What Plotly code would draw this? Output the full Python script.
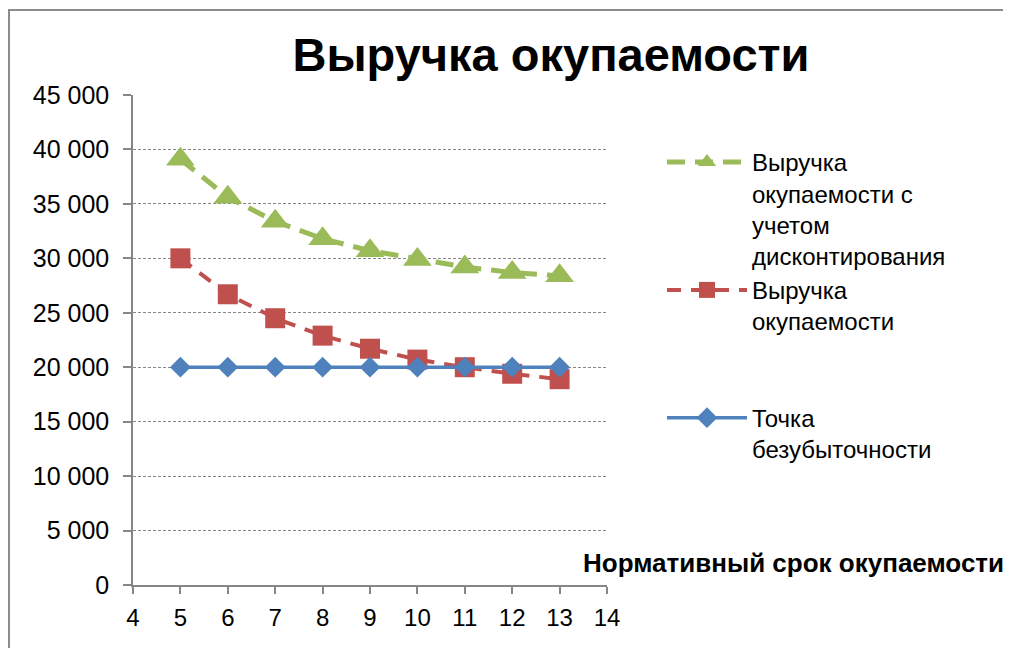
import plotly.graph_objects as go

years = [5, 6, 7, 8, 9, 10, 11, 12, 13]
disc_revenue = [39100, 35600, 33400, 31800, 30700, 29900, 29200, 28700, 28400]
revenue = [30000, 26700, 24500, 22900, 21700, 20700, 20000, 19400, 18900]
breakeven = [20000, 20000, 20000, 20000, 20000, 20000, 20000, 20000, 20000]

name_disc = "Выручка<br>окупаемости с<br>учетом<br>дисконтирования"
name_rev = "Выручка<br>окупаемости<br>&nbsp;<br>&nbsp;"
name_be = "Точка<br>безубыточности"

# page offset (browser body margin)
OFF = 8
W, H = 1011 - OFF, 648 - OFF
# plot area in screen pixels
X0, X1, Y0, Y1 = 133, 607, 95, 585
L, R, T, B = X0 - OFF, W - (X1 - OFF), Y0 - OFF, H - (Y1 - OFF)

GREEN = "#9BBB59"
RED = "#C0504D"
BLUE = "#4F81BD"
GREY = "#868686"
FONT = "Liberation Sans, Arial, sans-serif"

fig = go.Figure()
fig.add_trace(go.Scatter(
    x=years, y=disc_revenue, name=name_disc, mode="lines+markers",
    line=dict(color=GREEN, width=5, dash="18px,10px"),
    marker=dict(symbol="triangle-up", size=25, color=GREEN, line=dict(width=0)),
))
fig.add_trace(go.Scatter(
    x=years, y=revenue, name=name_rev, mode="lines+markers",
    line=dict(color=RED, width=4, dash="14px,10px"),
    marker=dict(symbol="square", size=20, color=RED, line=dict(width=0)),
))
fig.add_trace(go.Scatter(
    x=years, y=breakeven, name=name_be, mode="lines+markers",
    line=dict(color=BLUE, width=3.5),
    marker=dict(symbol="diamond", size=16, color=BLUE, line=dict(width=0)),
))

pw = X1 - X0
ph = Y1 - Y0
def px2x(p):
    return (p - X0) / pw
def py2y(p):
    return 1 - (p - Y0) / ph

fig.update_layout(
    width=W, height=H,
    margin=dict(l=L, r=R, t=T, b=B, autoexpand=False),
    paper_bgcolor="white", plot_bgcolor="white",
    separators=", ",
    font=dict(family=FONT, size=24, color="black"),
    title=dict(text="<b>Выручка окупаемости</b>", x=(551 - OFF) / W, xanchor="center",
               y=1 - (55 - OFF) / H, yanchor="middle",
               font=dict(family=FONT, size=47, color="black")),
    showlegend=True,
    legend=dict(xref="container", yref="container", x=(662 - OFF) / W, y=1 - (140 - OFF) / H,
                xanchor="left", yanchor="top", valign="top",
                font=dict(family=FONT, size=24, color="black"),
                itemwidth=80, tracegroupgap=0, bgcolor="rgba(0,0,0,0)",
                maxheight=600),
    xaxis=dict(range=[4, 14], dtick=1, tick0=4, showgrid=False, zeroline=False,
               showline=True, linecolor=GREY, linewidth=1.5,
               ticks="outside", ticklen=7, tickcolor=GREY, tickwidth=1.5,
               ticklabelstandoff=3,
               tickfont=dict(family=FONT, size=24, color="black")),
    yaxis=dict(range=[0, 45000], dtick=5000, tick0=0, tickformat=",d",
               showgrid=True, gridcolor=GREY, gridwidth=1, griddash="3px,2px",
               zeroline=False, showline=True, linecolor=GREY, linewidth=1.5,
               ticks="outside", ticklen=8, tickcolor=GREY, tickwidth=1.5,
               ticklabelstandoff=9,
               tickfont=dict(family=FONT, size=25, color="black")),
    annotations=[dict(text="<b>Нормативный срок окупаемости</b>",
                      xref="paper", yref="paper", x=px2x(1006), y=py2y(563),
                      xanchor="right", yanchor="middle", showarrow=False,
                      font=dict(family=FONT, size=26, color="black"))],
    shapes=[dict(type="path", xref="paper", yref="paper",
                 path="M %f,%f L %f,%f L %f,%f" % (px2x(9), py2y(660), px2x(9), py2y(10),
                                                   px2x(1020), py2y(10)),
                 line=dict(color="#8C8C8C", width=2))],
)

fig.write_html("out.html")
